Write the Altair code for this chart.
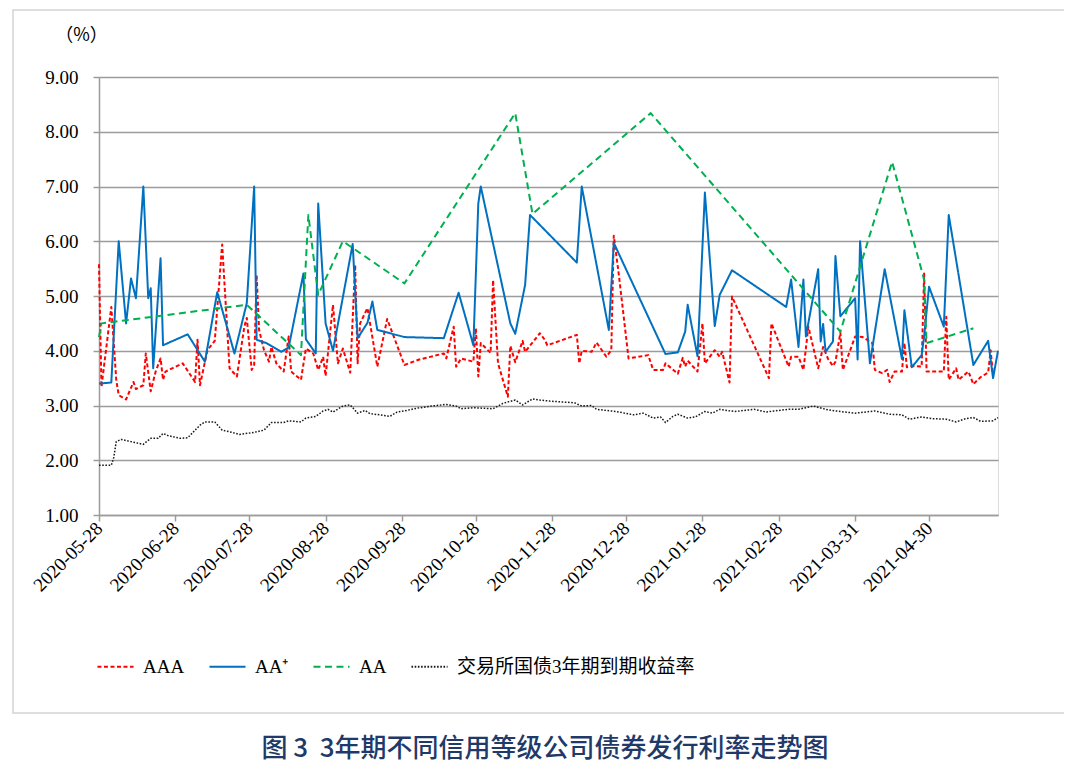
import altair as alt
import pandas as pd

# ---------------- data ----------------
SERIES = ["AAA", "AA⁺", "AA", "交易所国债3年期到期收益率"]
COLORS = ["#FF0000", "#0070C0", "#00B050", "#1A1A1A"]
DASHES = [[4, 2.5], [1, 0], [7, 4.5], [1.6, 1.6]]
WIDTHS = [2, 2, 2, 1.5]

aaa_dates = [
    "2020-05-28", "2020-05-29", "2020-06-02", "2020-06-04", "2020-06-05", "2020-06-08", "2020-06-11", "2020-06-12", "2020-06-15", "2020-06-16",
    "2020-06-18", "2020-06-20", "2020-06-22", "2020-06-23", "2020-06-24", "2020-07-01", "2020-07-06", "2020-07-07", "2020-07-08", "2020-07-11",
    "2020-07-14", "2020-07-17", "2020-07-20", "2020-07-23", "2020-07-26", "2020-07-27", "2020-07-29", "2020-07-30", "2020-07-31", "2020-08-01",
    "2020-08-03", "2020-08-05", "2020-08-06", "2020-08-08", "2020-08-11", "2020-08-13", "2020-08-14", "2020-08-18", "2020-08-20", "2020-08-23",
    "2020-08-25", "2020-08-27", "2020-08-28", "2020-08-31", "2020-09-02", "2020-09-04", "2020-09-07", "2020-09-09", "2020-09-10", "2020-09-11",
    "2020-09-14", "2020-09-18", "2020-09-22", "2020-09-29", "2020-10-05", "2020-10-15", "2020-10-16", "2020-10-19", "2020-10-20", "2020-10-22",
    "2020-10-27", "2020-10-28", "2020-10-29", "2020-10-30", "2020-11-03", "2020-11-04", "2020-11-06", "2020-11-10", "2020-11-11", "2020-11-13",
    "2020-11-16", "2020-11-17", "2020-11-23", "2020-11-25", "2020-11-26", "2020-12-08", "2020-12-09", "2020-12-10", "2020-12-14", "2020-12-16",
    "2020-12-20", "2020-12-22", "2020-12-23", "2020-12-25", "2020-12-29", "2021-01-06", "2021-01-08", "2021-01-12", "2021-01-13", "2021-01-18",
    "2021-01-20", "2021-01-21", "2021-01-22", "2021-01-26", "2021-01-28", "2021-01-29", "2021-02-02", "2021-02-04", "2021-02-05", "2021-02-08",
    "2021-02-09", "2021-02-24", "2021-02-25", "2021-03-04", "2021-03-05", "2021-03-08", "2021-03-10", "2021-03-12", "2021-03-16", "2021-03-18",
    "2021-03-20", "2021-03-22", "2021-03-23", "2021-03-25", "2021-03-26", "2021-03-29", "2021-03-31", "2021-04-03", "2021-04-07", "2021-04-08",
    "2021-04-11", "2021-04-13", "2021-04-14", "2021-04-16", "2021-04-19", "2021-04-20", "2021-04-21", "2021-04-23", "2021-04-27", "2021-04-28",
    "2021-04-29", "2021-05-06", "2021-05-07", "2021-05-08", "2021-05-11", "2021-05-12", "2021-05-16", "2021-05-18", "2021-05-21", "2021-05-24",
    "2021-05-25", "2021-05-26",
]
aaa_vals = [
    5.58, 3.34, 4.80, 3.47, 3.19, 3.11, 3.43, 3.30, 3.37, 3.95,
    3.26, 3.62, 3.86, 3.47, 3.62, 3.77, 3.43, 4.20, 3.37, 4.01,
    4.18, 5.94, 3.68, 3.53, 4.44, 4.60, 3.65, 3.74, 5.38, 4.38,
    4.01, 3.80, 4.07, 3.77, 3.62, 4.26, 3.62, 3.47, 4.04, 3.95,
    3.65, 3.89, 3.54, 4.84, 3.77, 4.04, 3.60, 5.57, 3.77, 4.50,
    4.78, 3.71, 4.58, 3.74, 3.84, 3.95, 3.86, 4.44, 3.71, 3.86,
    3.80, 4.41, 3.53, 4.14, 3.96, 5.29, 3.77, 3.16, 4.09, 3.79,
    4.18, 3.98, 4.32, 4.20, 4.10, 4.29, 3.77, 4.00, 3.98, 4.15,
    3.89, 4.01, 6.10, 5.41, 3.86, 3.92, 3.65, 3.65, 3.77, 3.58,
    3.87, 3.71, 3.82, 3.62, 4.50, 3.77, 4.01, 3.89, 3.98, 3.42,
    4.99, 3.50, 4.50, 3.71, 3.89, 3.89, 3.65, 4.44, 3.68, 4.07,
    3.85, 3.72, 3.80, 4.33, 3.65, 4.01, 4.26, 4.25, 4.14, 3.65,
    3.59, 3.65, 3.43, 3.62, 3.62, 4.14, 3.70, 3.72, 3.71, 5.41,
    3.62, 3.62, 4.62, 3.47, 3.68, 3.47, 3.62, 3.39, 3.52, 3.60,
    4.01, 3.55,
]

aap_dates = [
    "2020-05-28", "2020-06-02", "2020-06-05", "2020-06-08", "2020-06-10", "2020-06-12", "2020-06-15", "2020-06-17", "2020-06-18", "2020-06-19",
    "2020-06-22", "2020-06-23", "2020-07-03", "2020-07-10", "2020-07-15", "2020-07-22", "2020-07-27", "2020-07-30", "2020-07-31", "2020-08-04",
    "2020-08-10", "2020-08-13", "2020-08-19", "2020-08-20", "2020-08-24", "2020-08-25", "2020-08-28", "2020-08-31", "2020-09-08", "2020-09-10",
    "2020-09-14", "2020-09-16", "2020-09-18", "2020-09-29", "2020-10-15", "2020-10-21", "2020-10-27", "2020-10-29", "2020-10-30", "2020-11-11",
    "2020-11-13", "2020-11-17", "2020-11-19", "2020-12-08", "2020-12-10", "2020-12-21", "2020-12-23", "2021-01-13", "2021-01-18", "2021-01-21",
    "2021-01-22", "2021-01-26", "2021-01-29", "2021-02-02", "2021-02-04", "2021-02-09", "2021-03-03", "2021-03-05", "2021-03-08", "2021-03-10",
    "2021-03-11", "2021-03-16", "2021-03-17", "2021-03-18", "2021-03-19", "2021-03-22", "2021-03-23", "2021-03-25", "2021-03-31", "2021-04-01",
    "2021-04-02", "2021-04-06", "2021-04-12", "2021-04-19", "2021-04-20", "2021-04-23", "2021-04-27", "2021-04-28", "2021-04-30", "2021-05-06",
    "2021-05-08", "2021-05-18", "2021-05-24", "2021-05-26", "2021-05-28",
]
aap_vals = [
    3.40, 3.42, 6.00, 4.50, 5.32, 4.96, 7.00, 4.96, 5.14, 3.68,
    5.69, 4.10, 4.30, 3.80, 5.07, 3.95, 4.87, 7.00, 4.20, 4.14,
    3.98, 4.06, 5.41, 4.21, 3.95, 6.69, 4.50, 4.00, 5.95, 4.23,
    4.51, 4.90, 4.38, 4.25, 4.23, 5.06, 4.10, 6.69, 7.00, 4.50,
    4.31, 5.20, 6.48, 5.61, 7.00, 4.38, 5.97, 3.94, 3.97, 4.35,
    4.84, 3.90, 6.89, 4.45, 5.02, 5.47, 4.80, 5.30, 4.07, 5.30,
    4.26, 5.49, 4.17, 4.49, 3.98, 4.17, 5.73, 4.63, 4.96, 3.84,
    6.00, 3.77, 5.49, 3.85, 4.74, 3.70, 3.92, 4.26, 5.17, 4.44,
    6.48, 3.74, 4.18, 3.50, 4.00,
]

aa_dates = [
    "2020-05-28", "2020-05-29", "2020-07-27", "2020-08-18", "2020-08-21", "2020-08-25", "2020-09-04", "2020-09-29",
    "2020-11-13", "2020-11-20", "2021-01-07", "2021-03-25", "2021-04-15", "2021-04-28", "2021-04-29", "2021-05-18",
]
aa_vals = [4.25, 4.50, 4.84, 3.92, 6.48, 5.02, 6.00, 5.23, 8.34, 6.50, 8.34, 4.35, 7.45, 5.30, 4.14, 4.41]

tsy_dates = [
    "2020-05-28", "2020-06-02", "2020-06-03", "2020-06-04", "2020-06-06", "2020-06-10", "2020-06-15", "2020-06-18", "2020-06-21", "2020-06-23",
    "2020-06-25", "2020-06-30", "2020-07-03", "2020-07-08", "2020-07-10", "2020-07-14", "2020-07-17", "2020-07-21", "2020-07-24", "2020-07-30",
    "2020-08-03", "2020-08-06", "2020-08-11", "2020-08-13", "2020-08-18", "2020-08-20", "2020-08-24", "2020-08-27", "2020-08-29", "2020-08-31",
    "2020-09-04", "2020-09-07", "2020-09-10", "2020-09-13", "2020-09-15", "2020-09-19", "2020-09-23", "2020-09-26", "2020-09-29", "2020-10-04",
    "2020-10-10", "2020-10-16", "2020-10-20", "2020-10-22", "2020-10-27", "2020-11-04", "2020-11-08", "2020-11-13", "2020-11-16", "2020-11-20",
    "2020-11-23", "2020-11-27", "2020-12-07", "2020-12-10", "2020-12-14", "2020-12-16", "2020-12-24", "2020-12-31", "2021-01-04", "2021-01-08",
    "2021-01-11", "2021-01-13", "2021-01-16", "2021-01-18", "2021-01-22", "2021-01-25", "2021-01-29", "2021-02-01", "2021-02-04", "2021-02-10",
    "2021-02-18", "2021-02-23", "2021-02-26", "2021-03-04", "2021-03-08", "2021-03-14", "2021-03-20", "2021-03-25", "2021-03-31", "2021-04-08",
    "2021-04-14", "2021-04-19", "2021-04-22", "2021-04-27", "2021-05-01", "2021-05-07", "2021-05-11", "2021-05-15", "2021-05-18", "2021-05-21",
    "2021-05-26", "2021-05-28",
]
tsy_vals = [
    1.91, 1.91, 2.05, 2.34, 2.38, 2.34, 2.29, 2.40, 2.40, 2.49,
    2.45, 2.40, 2.41, 2.64, 2.70, 2.70, 2.55, 2.51, 2.47, 2.51,
    2.55, 2.69, 2.69, 2.72, 2.70, 2.77, 2.80, 2.90, 2.93, 2.88,
    2.99, 3.01, 2.86, 2.91, 2.85, 2.83, 2.80, 2.88, 2.90, 2.95,
    2.99, 3.02, 2.99, 2.94, 2.96, 2.94, 3.04, 3.10, 3.01, 3.12,
    3.10, 3.08, 3.05, 2.99, 3.00, 2.93, 2.89, 2.83, 2.86, 2.77,
    2.79, 2.69, 2.80, 2.84, 2.77, 2.79, 2.89, 2.86, 2.93, 2.89,
    2.93, 2.88, 2.90, 2.93, 2.93, 2.99, 2.92, 2.89, 2.86, 2.90,
    2.84, 2.83, 2.75, 2.79, 2.76, 2.75, 2.70, 2.76, 2.78, 2.71,
    2.72, 2.78,
]

TICK_DATES = [(2020, 5, 28), (2020, 6, 28), (2020, 7, 28), (2020, 8, 28), (2020, 9, 28), (2020, 10, 28),
              (2020, 11, 28), (2020, 12, 28), (2021, 1, 28), (2021, 2, 28), (2021, 3, 31), (2021, 4, 30)]
X_DOMAIN = [(2020, 5, 28), (2021, 5, 28)]
Y_TICKS = [1, 2, 3, 4, 5, 6, 7, 8, 9]

TITLE = "图 3\u00a0\u00a03年期不同信用等级公司债券发行利率走势图"
Y_UNIT = "（%）"

# ---------------- build table ----------------
frames = []
for name, d, v in zip(SERIES, [aaa_dates, aap_dates, aa_dates, tsy_dates],
                      [aaa_vals, aap_vals, aa_vals, tsy_vals]):
    assert len(d) == len(v), name
    frames.append(pd.DataFrame({"date": d, "value": v, "series": name}))
df = pd.concat(frames, ignore_index=True)


def dt(t):
    return alt.DateTime(year=t[0], month=t[1], date=t[2], utc=True)


SERIF = "'Liberation Serif', 'Noto Sans CJK SC', serif"
GRID = "#9C9C9C"

color_scale = alt.Scale(domain=SERIES, range=COLORS)
dash_scale = alt.Scale(domain=SERIES, range=DASHES)

x_enc = alt.X(
    "date:T",
    scale=alt.Scale(type="utc", domain=[dt(t) for t in X_DOMAIN], nice=False),
    axis=alt.Axis(
        values=[dt(t) for t in TICK_DATES],
        labelExpr="utcFormat(datum.value, '%Y-%m-%d')",
        labelAngle=315, labelAlign="right", labelBaseline="middle", labelPadding=4,
        labelFont=SERIF, labelFontSize=19, labelColor="#000000",
        grid=False, tickSize=6, tickColor=GRID, tickWidth=1.5,
        domainColor=GRID, domainWidth=1.5, title=None, labelOverlap=False,
    ),
)
y_enc = alt.Y(
    "value:Q",
    scale=alt.Scale(domain=[1, 9], nice=False, zero=False),
    axis=alt.Axis(
        values=Y_TICKS, format=".2f", labelFont=SERIF, labelFontSize=19, labelColor="#000000",
        labelPadding=15, tickSize=6, tickColor=GRID, tickWidth=1.5,
        domainColor=GRID, domainWidth=1.5, gridColor=GRID, gridWidth=1.6,
        title=Y_UNIT, titleAngle=0, titleX=-18, titleY=-42, titleAlign="center",
        titleBaseline="middle", titleFont="'Noto Sans CJK SC', 'Liberation Serif'",
        titleFontSize=18, titleFontWeight="normal", titleColor="#000000",
    ),
)

legend = alt.Legend(
    title=None, orient="none", legendX=-3, legendY=570, direction="horizontal",
    symbolType="stroke", symbolSize=1300, symbolStrokeWidth=2,
    labelFont=SERIF, labelFontSize=19, labelColor="#000000", labelOffset=8,
    columnPadding=20, labelLimit=400,
)

layers = []
for i, name in enumerate(SERIES):
    layers.append(
        alt.Chart(df)
        .transform_filter(alt.datum.series == name)
        .mark_line(strokeWidth=WIDTHS[i], strokeCap="butt", strokeJoin="round")
        .encode(
            x=x_enc,
            y=y_enc,
            color=alt.Color("series:N", scale=color_scale, legend=legend),
            strokeDash=alt.StrokeDash("series:N", scale=dash_scale, legend=legend),
        )
    )

one = pd.DataFrame({"title": [TITLE]})

frame = alt.Chart(one).mark_rect(
    fill="transparent", stroke="#D4D4D4", strokeWidth=1.5
).encode(x=alt.value(-86), x2=alt.value(968), y=alt.value(-67), y2=alt.value(636))

title_mark = alt.Chart(one).mark_text(
    font="Noto Sans CJK SC", fontSize=26, fontWeight=500, color="#1F3A68",
    align="center", baseline="middle",
).encode(text="title:N", x=alt.value(446), y=alt.value(672))

chart = (
    alt.layer(frame, *layers, title_mark)
    .properties(
        width=899, height=438,
        padding={"left": 91, "top": 69, "right": 66, "bottom": 252},
        autosize=alt.AutoSizeParams(type="none"),
    )
    .configure_view(strokeWidth=0)
    .configure(background="#FFFFFF")
)

chart.save("out.html", embed_options={"renderer": "svg", "actions": False})
